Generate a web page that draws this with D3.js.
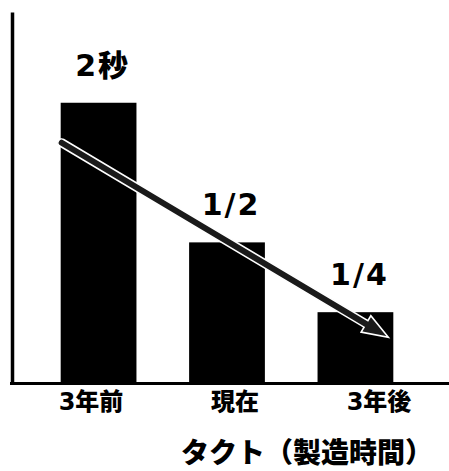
<!DOCTYPE html>
<html>
<head>
<meta charset="utf-8">
<script src="https://cdn.jsdelivr.net/npm/d3@7"></script>
<style>
  html, body { margin: 0; padding: 0; background: #fff; }
  svg { display: block; }
  text { font-family: "DejaVu Sans", "Noto Sans CJK JP", sans-serif; font-weight: 900; fill: #000; }
  text.title { font-family: "Noto Sans CJK JP", sans-serif; }
</style>
</head>
<body>
<svg id="chart" width="449" height="471"></svg>
<script>
// Takt time per unit (seconds)
const categories = ["3年前", "現在", "3年後"];
const taktSeconds = [2, 1, 0.5];
const valueLabels = ["2秒", "1/2", "1/4"];
const axisTitle = "タクト（製造時間）";

const svg = d3.select("#chart");
const W = 449, H = 471;

const x = d3.scaleBand()
  .domain(categories)
  .range([35, 419])
  .paddingInner(0.41)
  .paddingOuter(0.2);

const y = d3.scaleLinear()
  .domain([0, 2.65])
  .range([382, 12]);

// category label positions along the baseline
const xLabel = d3.scalePoint()
  .domain(categories)
  .range([91, 379]);

// bars
svg.append("g")
  .selectAll("rect")
  .data(categories)
  .join("rect")
  .attr("x", d => x(d))
  .attr("y", (d, i) => y(taktSeconds[i]))
  .attr("width", x.bandwidth())
  .attr("height", (d, i) => y(0) - y(taktSeconds[i]))
  .attr("fill", "#000");

// vertical axis (line only)
svg.append("g")
  .attr("transform", "translate(12,0)")
  .call(d3.axisLeft(y).tickValues([]).tickSizeOuter(0))
  .call(g => g.select(".domain").attr("stroke", "#000").attr("stroke-width", 3.5));

// baseline
svg.append("line")
  .attr("x1", 10).attr("x2", W)
  .attr("y1", y(0) + 1.5).attr("y2", y(0) + 1.5)
  .attr("stroke", "#000")
  .attr("stroke-width", 3);

// value labels above the bars
svg.append("g")
  .selectAll("text")
  .data(categories)
  .join("text")
  .attr("x", d => x(d) + x.bandwidth() / 2 + 4)
  .attr("y", (d, i) => y(taktSeconds[i]) - 27)
  .attr("text-anchor", "middle")
  .attr("font-size", 30)
  .attr("letter-spacing", 2)
  .text((d, i) => valueLabels[i]);

// category labels
svg.append("g")
  .selectAll("text")
  .data(categories)
  .join("text")
  .attr("x", d => xLabel(d))
  .attr("y", 410)
  .attr("text-anchor", "middle")
  .attr("font-size", 24)
  .text(d => d);

// axis title
svg.append("text")
  .attr("class", "title")
  .attr("x", 307)
  .attr("y", 463)
  .attr("text-anchor", "middle")
  .attr("font-size", 28)
  .text(axisTitle);

// trend arrow from the first bar down to the last
const first = categories[0], last = categories[categories.length - 1];
const p0 = [x(first) + 1, y(taktSeconds[0]) + 40];
const p1 = [x(last) + x.bandwidth() - 5, y(taktSeconds[taktSeconds.length - 1]) + 25];
const len = Math.hypot(p1[0] - p0[0], p1[1] - p0[1]);
const ang = Math.atan2(p1[1] - p0[1], p1[0] - p0[0]) * 180 / Math.PI;
const h = 3.8, H2 = 9.5, headLen = 26;
const arrowPath = [
  `M0,${-h}`,
  `A${h},${h} 0 0 0 0,${h}`,
  `L${len - headLen},${h}`,
  `L${len - headLen},${H2}`,
  `L${len},0`,
  `L${len - headLen},${-H2}`,
  `L${len - headLen},${-h}`,
  "Z"
].join(" ");

svg.append("path")
  .attr("transform", `translate(${p0[0]},${p0[1]}) rotate(${ang})`)
  .attr("d", arrowPath)
  .attr("fill", "#1a1a1a")
  .attr("stroke", "#fff")
  .attr("stroke-width", 1.6)
  .attr("stroke-linejoin", "miter");
</script>
</body>
</html>
